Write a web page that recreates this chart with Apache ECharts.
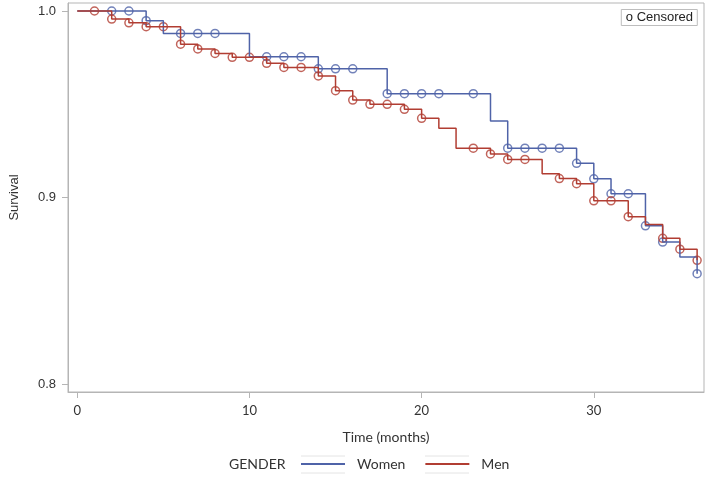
<!DOCTYPE html>
<html>
<head>
<meta charset="utf-8">
<script src="https://cdn.jsdelivr.net/npm/echarts@6/dist/echarts.min.js"></script>
<style>
html,body{margin:0;padding:0;background:#fff;}
#chart{width:709px;height:478px;}
</style>
</head>
<body>
<div id="chart"></div>
<script>
// Kaplan-Meier step data (time in months, survival after each drop)
const womenTimes = [0, 4, 5, 10, 14, 18, 24, 25, 29, 30, 31, 33, 34, 35, 36];
const womenSurv  = [1.0, 0.9948, 0.988, 0.9755, 0.969, 0.9557, 0.9411, 0.9265, 0.9184, 0.9101, 0.9021, 0.8849, 0.8762, 0.8682, 0.8593];
const womenCensored = [2, 3, 4, 6, 7, 8, 11, 12, 13, 14, 15, 16, 18, 19, 20, 21, 23, 25, 26, 27, 28, 29, 30, 31, 32, 33, 34, 36];

const menTimes = [0, 2, 3, 4, 6, 7, 8, 9, 11, 12, 14, 15, 16, 17, 19, 20, 21, 22, 24, 25, 27, 28, 29, 30, 32, 33, 34, 35, 36];
const menSurv  = [1.0, 0.9957, 0.9937, 0.9916, 0.9822, 0.9797, 0.9773, 0.9752, 0.972, 0.9698, 0.9652, 0.9573, 0.9523, 0.95, 0.9473, 0.9425, 0.9372, 0.9265, 0.9234, 0.9205, 0.9128, 0.9102, 0.9075, 0.8983, 0.8898, 0.8856, 0.8782, 0.8724, 0.8664];
const menCensored = [1, 2, 3, 4, 5, 6, 7, 8, 9, 10, 11, 12, 13, 14, 15, 16, 17, 18, 19, 20, 23, 24, 25, 26, 28, 29, 30, 31, 32, 34, 35, 36];

const xTicks = [0, 10, 20, 30];
const yTicks = [0.8, 0.9, 1.0];

const BLUE = '#4f63a8';
const RED = '#b13d32';

function stepPairs(times, surv) {
  return times.map((t, i) => [t, surv[i]]);
}
function survAt(times, surv, t) {
  let v = surv[0];
  for (let i = 0; i < times.length; i++) { if (times[i] <= t) v = surv[i]; }
  return v;
}
function censorPairs(cens, times, surv) {
  return cens.map(t => [t, survAt(times, surv, t)]);
}

const chart = echarts.init(document.getElementById('chart'), null, {renderer: 'canvas'});
const axisGray = '#b5b5b5';
const option = {
  animation: false,
  backgroundColor: '#fff',
  grid: {left: 66, right: 5, top: 3, bottom: 86, show: true, borderColor: axisGray, borderWidth: 1, containLabel: false},
  title: [
    {text: 'o Censored', right: 11, top: 9, padding: [1, 5, 1, 5], borderColor: '#bdbdbd', borderWidth: 1,
     textStyle: {fontFamily: 'Liberation Sans', fontSize: 13, fontWeight: 'normal', color: '#222', lineHeight: 15}},
    {text: 'GENDER', left: 229, top: 456, padding: 0,
     textStyle: {fontFamily: 'Lato', fontSize: 14, fontWeight: 'normal', color: '#333', lineHeight: 16}}
  ],
  legend: {
    data: ['Women', 'Men'], left: 301, top: 456, padding: 0,
    icon: 'rect', itemWidth: 44, itemHeight: 2, itemGap: 20,
    textStyle: {fontFamily: 'Lato', fontSize: 14, color: '#333', lineHeight: 16, padding: [0, 0, 0, 7]}
  },
  graphic: [
    {type: 'line', shape: {x1: 301, y1: 456, x2: 345, y2: 456}, style: {stroke: '#e4e4e4', lineWidth: 1}},
    {type: 'line', shape: {x1: 301, y1: 473, x2: 345, y2: 473}, style: {stroke: '#e4e4e4', lineWidth: 1}},
    {type: 'line', shape: {x1: 425, y1: 456, x2: 469, y2: 456}, style: {stroke: '#e4e4e4', lineWidth: 1}},
    {type: 'line', shape: {x1: 425, y1: 473, x2: 469, y2: 473}, style: {stroke: '#e4e4e4', lineWidth: 1}}
  ],
  xAxis: {
    type: 'value', min: -0.538, max: 36.40,
    name: 'Time (months)', nameLocation: 'middle', nameGap: 38,
    nameTextStyle: {fontFamily: 'Lato', fontSize: 14, color: '#333'},
    axisLine: {show: true, onZero: false, lineStyle: {color: axisGray}},
    axisTick: {show: true, length: 6, lineStyle: {color: axisGray}, customValues: xTicks},
    axisLabel: {customValues: xTicks, margin: 12, fontFamily: 'Lato', fontSize: 13, color: '#333'},
    splitLine: {show: false}
  },
  yAxis: {
    type: 'value', min: 0.79588, max: 1.00429,
    name: 'Survival', nameLocation: 'middle', nameGap: 47,
    nameTextStyle: {fontFamily: 'Liberation Sans', fontSize: 13, color: '#333'},
    axisLine: {show: true, onZero: false, lineStyle: {color: axisGray}},
    axisTick: {show: true, length: 6, lineStyle: {color: axisGray}, customValues: yTicks},
    axisLabel: {customValues: yTicks, margin: 12, fontFamily: 'Liberation Sans', fontSize: 13, color: '#333',
      formatter: v => Number(v).toFixed(1)},
    splitLine: {show: false}
  },
  series: [
    {name: 'Women', type: 'line', step: 'end', showSymbol: false, symbol: 'none',
     data: stepPairs(womenTimes, womenSurv), color: BLUE,
     lineStyle: {color: BLUE, width: 1.5}, itemStyle: {color: BLUE}},
    {name: 'Women censored', type: 'scatter', symbol: 'circle', symbolSize: 8,
     data: censorPairs(womenCensored, womenTimes, womenSurv),
     itemStyle: {color: 'rgba(0,0,0,0)', borderColor: BLUE, borderWidth: 1.5}},
    {name: 'Men', type: 'line', step: 'end', showSymbol: false, symbol: 'none',
     data: stepPairs(menTimes, menSurv), color: RED,
     lineStyle: {color: RED, width: 1.5}, itemStyle: {color: RED}},
    {name: 'Men censored', type: 'scatter', symbol: 'circle', symbolSize: 8,
     data: censorPairs(menCensored, menTimes, menSurv),
     itemStyle: {color: 'rgba(0,0,0,0)', borderColor: RED, borderWidth: 1.5}}
  ]
};
chart.setOption(option);
</script>
</body>
</html>
